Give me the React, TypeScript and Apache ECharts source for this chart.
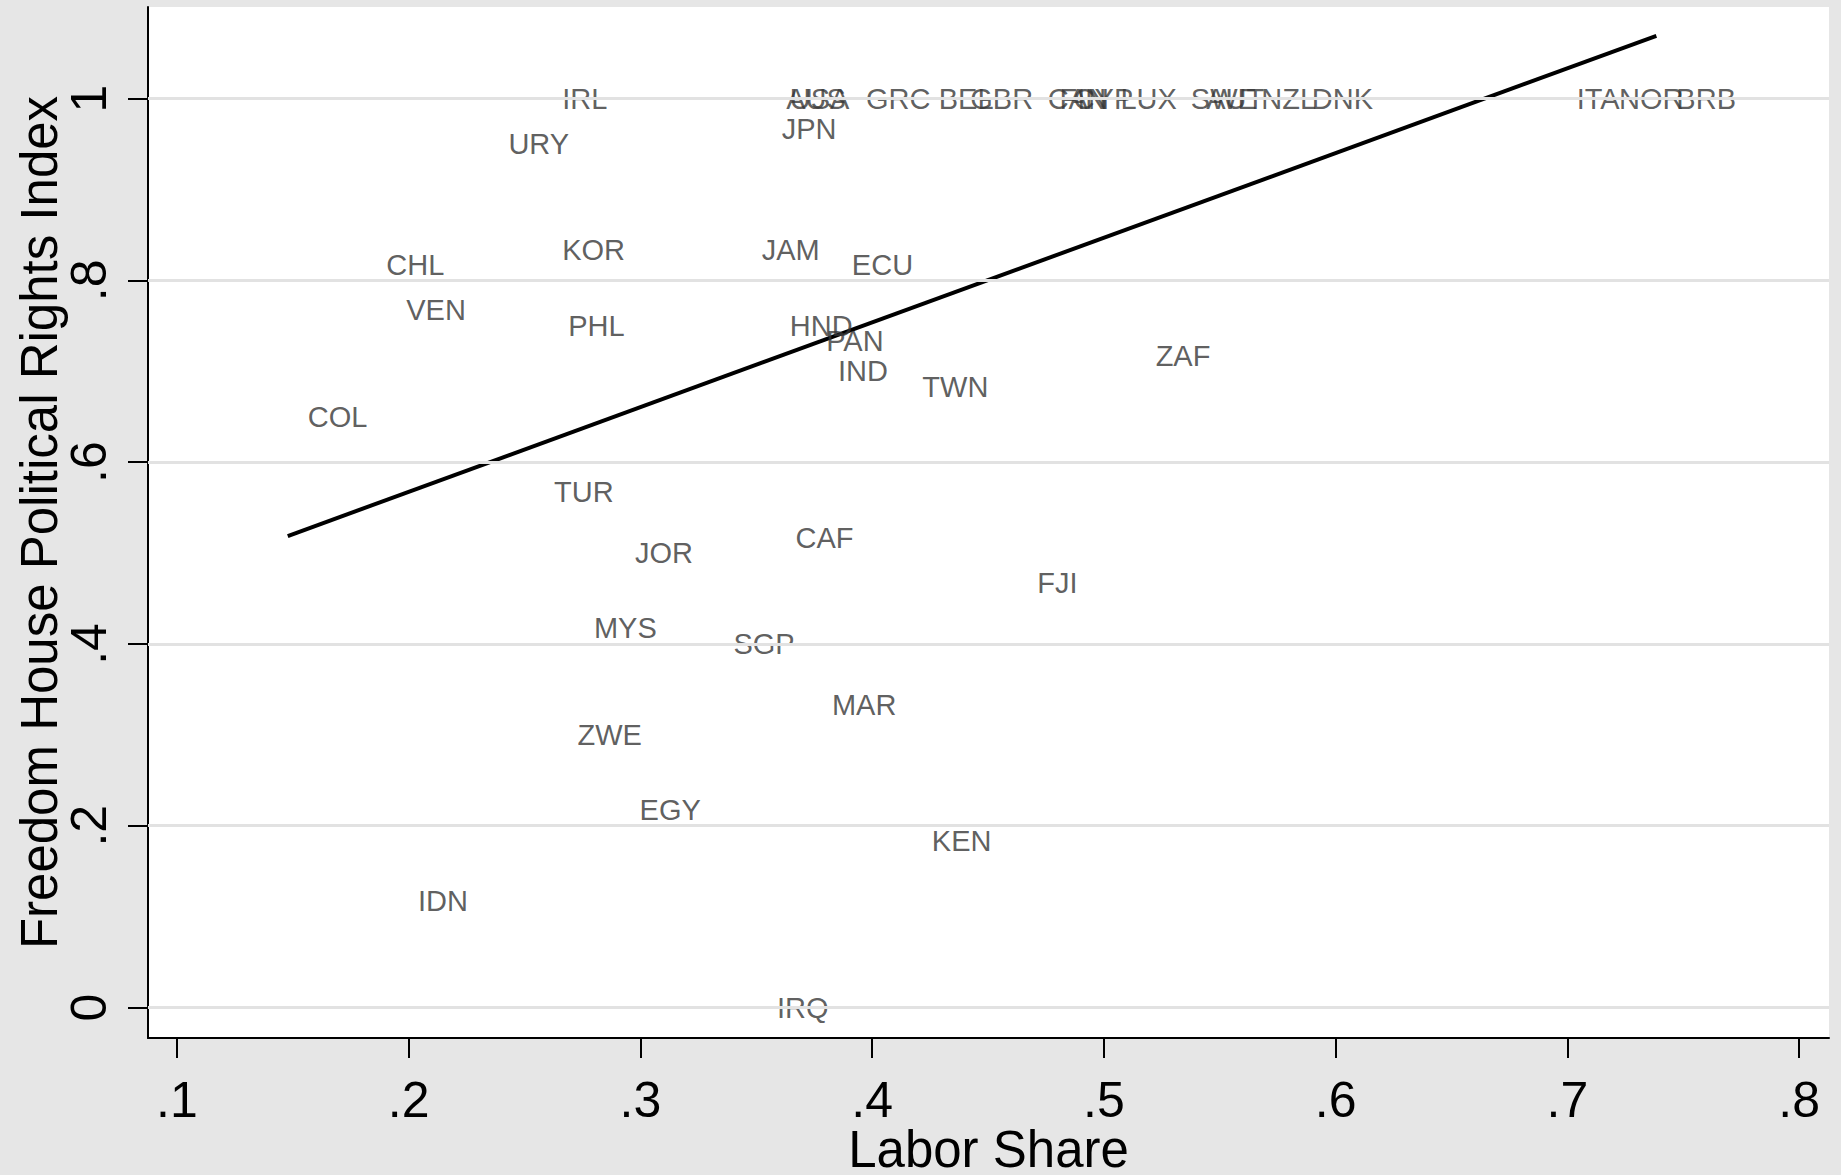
import React, { useEffect, useRef } from "react";
import * as echarts from "echarts";

// Country codes, labor share (x) and Freedom House political rights index (y)
const countries = [
  "IRL", "URY", "CHL", "KOR", "JAM", "ECU", "VEN", "PHL", "HND", "PAN",
  "IND", "TWN", "ZAF", "COL", "TUR", "CAF", "JOR", "FJI", "MYS", "SGP",
  "MAR", "ZWE", "EGY", "KEN", "IDN", "IRQ", "AUS", "USA", "JPN", "GRC",
  "BEL", "GBR", "CAN", "FIN", "CYP", "LUX", "SWE", "AUT", "NZL", "DNK",
  "ITA", "NOR", "BRB",
];
const laborShare = [
  0.2576, 0.2344, 0.1817, 0.2576, 0.3437, 0.3826, 0.1903, 0.2602, 0.3558, 0.3715,
  0.3766, 0.413, 0.5137, 0.1478, 0.2541, 0.3583, 0.289, 0.4626, 0.2713, 0.3315,
  0.374, 0.2642, 0.291, 0.4171, 0.1954, 0.3503, 0.3543, 0.3558, 0.3523, 0.3887,
  0.4201, 0.4337, 0.4671, 0.4722, 0.4783, 0.4985, 0.5289, 0.5355, 0.5593, 0.5811,
  0.6954, 0.7137, 0.7384,
];
const rightsIndex = [
  1, 0.95, 0.817, 0.833, 0.833, 0.817, 0.767, 0.75, 0.75, 0.733,
  0.7, 0.683, 0.717, 0.65, 0.567, 0.517, 0.5, 0.467, 0.417, 0.4,
  0.333, 0.3, 0.217, 0.183, 0.117, 0, 1, 1, 0.967, 1,
  1, 1, 1, 1, 1, 1, 1, 1, 1, 1,
  1, 1, 1,
];

// Linear fit endpoints
const fitX = [0.1478, 0.7384];
const fitY = [0.5187, 1.069];

// Axis ticks
const xTicks = [0.1, 0.2, 0.3, 0.4, 0.5, 0.6, 0.7, 0.8];
const xTickLabels = [".1", ".2", ".3", ".4", ".5", ".6", ".7", ".8"];
const yTicks = [0, 0.2, 0.4, 0.6, 0.8, 1];
const yTickLabels = ["0", ".2", ".4", ".6", ".8", "1"];

const FONT = "Liberation Sans, Arial, Helvetica, sans-serif";

function lookup(ticks: number[], labels: string[], v: number) {
  let best = 0;
  for (let i = 0; i < ticks.length; i++) {
    if (Math.abs(ticks[i] - v) < Math.abs(ticks[best] - v)) best = i;
  }
  return labels[best];
}

export default function App() {
  const ref = useRef<HTMLDivElement>(null);

  useEffect(() => {
    if (!ref.current) return;
    const chart = echarts.init(ref.current, undefined, { renderer: "svg" });

    const points = countries.map((c, i) => ({
      name: c,
      value: [laborShare[i], rightsIndex[i]],
    }));
    const fitLine = fitX.map((x, i) => [x, fitY[i]]);

    chart.setOption({
      animation: false,
      backgroundColor: "#e6e6e6",
      textStyle: { fontFamily: FONT },
      grid: {
        left: 148,
        right: 12,
        top: 7,
        bottom: 137,
        containLabel: false,
        outerBoundsMode: "none",
        show: true,
        backgroundColor: "#ffffff",
        borderWidth: 0,
      },
      xAxis: {
        type: "value",
        min: 0.0875,
        max: 0.8129,
        name: "Labor Share",
        nameLocation: "middle",
        nameGap: 86,
        nameMoveOverlap: false,
        nameTextStyle: { fontSize: 51, color: "#000000", fontFamily: FONT },
        axisLine: { show: true, onZero: false, lineStyle: { color: "#000000", width: 2 } },
        axisTick: {
          show: true,
          customValues: xTicks,
          length: 20,
          lineStyle: { color: "#000000", width: 2 },
        },
        axisLabel: {
          customValues: xTicks,
          margin: 37,
          fontSize: 50,
          color: "#000000",
          fontFamily: FONT,
          formatter: (v: number) => lookup(xTicks, xTickLabels, v),
        },
        splitLine: { show: false },
      },
      yAxis: {
        type: "value",
        min: -0.0335,
        max: 1.1007,
        name: "Freedom House Political Rights Index",
        nameLocation: "middle",
        nameRotate: 90,
        nameGap: 83,
        nameMoveOverlap: false,
        nameTextStyle: { fontSize: 51, color: "#000000", fontFamily: FONT },
        axisLine: { show: true, onZero: false, lineStyle: { color: "#000000", width: 2 } },
        axisTick: {
          show: true,
          customValues: yTicks,
          length: 20,
          lineStyle: { color: "#000000", width: 2 },
        },
        axisLabel: {
          customValues: yTicks,
          rotate: 90,
          margin: 34,
          fontSize: 50,
          color: "#000000",
          fontFamily: FONT,
          formatter: (v: number) => lookup(yTicks, yTickLabels, v),
        },
        splitLine: { show: false },
      },
      series: [
        {
          name: "grid",
          type: "line",
          data: [],
          z: 1,
          silent: true,
          markLine: {
            silent: true,
            symbol: ["none", "none"],
            label: { show: false },
            lineStyle: { color: "#e2e2e2", width: 3, type: "solid" },
            data: yTicks.map((v) => ({ yAxis: v })),
          },
        },
        {
          name: "fit",
          type: "line",
          data: fitLine,
          z: 3,
          symbol: "none",
          silent: true,
          lineStyle: { color: "#000000", width: 4 },
        },
        {
          name: "countries",
          type: "scatter",
          data: points,
          z: 4,
          symbolSize: 0,
          silent: true,
          itemStyle: { color: "rgba(0,0,0,0)" },
          label: {
            show: true,
            position: "right",
            distance: 20,
            formatter: (p: any) => p.name,
            fontSize: 29,
            color: "#363636",
            fontFamily: FONT,
          },
        },
      ],
    });

    return () => chart.dispose();
  }, []);

  return (
    <div
      ref={ref}
      style={{ position: "fixed", left: 0, top: 0, width: 1841, height: 1175 }}
    />
  );
}
